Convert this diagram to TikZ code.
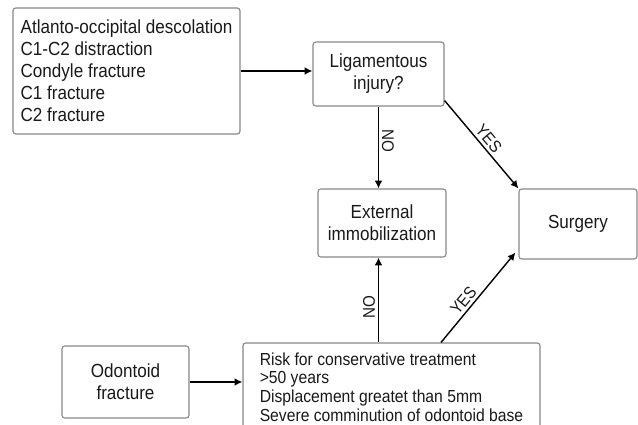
\documentclass[tikz,border=0pt]{standalone}
\usepackage{fontspec}
\setmainfont{Liberation Sans}[FakeStretch=0.9]
\usetikzlibrary{positioning,calc}
\usetikzlibrary{arrows.meta}
\definecolor{BoxGray}{RGB}{135,135,135}
\definecolor{InkGray}{RGB}{25,25,25}
\tikzset{
  box/.style={draw=BoxGray,line width=0.8pt,rounded corners=2pt,text=InkGray,
    font=\fontsize{13.5}{15.6}\selectfont,align=center,inner sep=0pt},
  flow/.style={draw=black,line width=1pt,-{Latex[length=5.5pt,width=5.5pt]}},
  ans/.style={font=\fontsize{12}{13}\selectfont,text=InkGray,inner sep=2pt,anchor=south},
}

\begin{document}
\begin{tikzpicture}[x=0.025cm,y=-0.025cm]
\useasboundingbox (0,0) rectangle (638,425);
\node[box,minimum width=5.675cm,minimum height=3.15cm,align=left] (upper) at (126.5,71)
  {Atlanto-occipital descolation\\C1-C2 distraction\\Condyle fracture\\C1 fracture\\C2 fracture};
\node[box,minimum width=3.275cm,minimum height=1.6cm] (lig) at (378.5,74) {Ligamentous\\injury?};
\node[box,minimum width=3.2cm,minimum height=1.7cm] (ext) at (382,223) {External\\immobilization};
\node[box,minimum width=2.95cm,minimum height=1.75cm] (surg) at (578,224) {Surgery};
\node[box,minimum width=3.175cm,minimum height=1.8cm] (odo) at (125.5,382) {Odontoid\\fracture};
\node[box,minimum width=7.425cm,minimum height=2.2cm,align=left,
  font=\fontsize{12.4}{13.3}\selectfont] (risk) at (391.5,387)
  {Risk for conservative treatment\\>50 years\\Displacement greatet than 5mm\\Severe comminution of odontoid base};
\draw[flow] (upper.east) -- (upper.east -| lig.west);
\draw[flow] (lig.south) -- node[ans,rotate=-90,pos=0.42] {NO} (lig.south |- ext.north);
\draw[flow] ($(lig.south east)+(0,-6)$) -- node[ans,sloped,pos=0.5] {YES} (surg.north west);
\draw[flow] (odo.east) -- (odo.east -| risk.west);
\draw[flow] (lig.south |- risk.north) -- node[ans,rotate=90,pos=0.42] {NO} (lig.south |- ext.south);
\draw[flow] ($(risk.north)+(49.5,0)$) -- node[ans,sloped,pos=0.4] {YES} ($(surg.south west)+(-3,-7)$);
\end{tikzpicture}
\end{document}
